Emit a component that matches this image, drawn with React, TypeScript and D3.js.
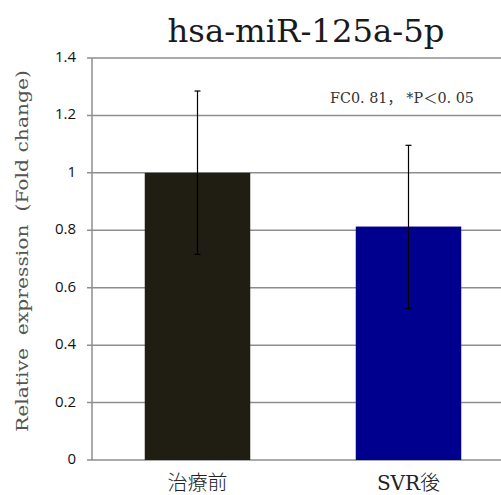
import * as d3 from "d3";

const W = 501;
const H = 495;
const MARGIN = { top: 58, left: 92, bottom: 35 };
const PLOT_RIGHT = 514; // plot area runs past the picture edge

const categories = ["治療前", "SVR後"];
const means = [1.0, 0.813];
const errUpper = [1.285, 1.096];
const errLower = [0.716, 0.527];
const barColors = ["#201e13", "#00008f"];
const yTicks = [0, 0.2, 0.4, 0.6, 0.8, 1, 1.2, 1.4];

const title = "hsa-miR-125a-5p";
const yLabel = "Relative\u00a0\u00a0expression\u00a0\u00a0(Fold\u00a0change)";
const note = "FC0. 81，\u00a0*P＜0. 05";

const App = () => {
  const y = d3
    .scaleLinear()
    .domain([0, 1.4])
    .range([H - MARGIN.bottom, MARGIN.top]);

  const x = d3
    .scaleBand()
    .domain(categories)
    .range([MARGIN.left, PLOT_RIGHT])
    .paddingInner(0.5)
    .paddingOuter(0.25);

  const gridColor = "#8e8e8e";
  const y0 = y(0);

  return (
    <svg width={W} height={H} style={{ display: "block", position: "absolute", left: 0, top: 0, background: "white" }}>
      <text
        x={306}
        y={42}
        textAnchor="middle"
        fontFamily="'DejaVu Serif', serif"
        fontSize={31}
        textLength={277}
        lengthAdjust="spacingAndGlyphs"
        fill="#1a1a1a"
      >
        {title}
      </text>

      {/* grid + ticks */}
      {yTicks.map((t, i) => (
        <g key={i}>
          <line x1={87} x2={W} y1={y(t)} y2={y(t)} stroke={gridColor} strokeWidth={1.5} />
          <text
            x={76}
            y={y(t)}
            textAnchor="end"
            dominantBaseline="middle"
            fontFamily="'Open Sans', 'Liberation Sans', sans-serif"
            fontSize={15}
            fill="#111"
          >
            {t}
          </text>
        </g>
      ))}
      <line x1={MARGIN.left} x2={MARGIN.left} y1={y(1.4)} y2={y0} stroke={gridColor} strokeWidth={1.5} />

      {/* bars */}
      {categories.map((c, i) => (
        <rect
          key={c}
          x={x(c)}
          y={y(means[i])}
          width={x.bandwidth()}
          height={y0 - y(means[i])}
          fill={barColors[i]}
        />
      ))}

      {/* error bars */}
      {categories.map((c, i) => {
        const cx = (x(c) as number) + x.bandwidth() / 2;
        return (
          <g key={c} stroke="#000" strokeWidth={1.2}>
            <line x1={cx} x2={cx} y1={y(errUpper[i])} y2={y(errLower[i])} />
            <line x1={cx - 3} x2={cx + 3} y1={y(errUpper[i])} y2={y(errUpper[i])} />
            <line x1={cx - 3} x2={cx + 3} y1={y(errLower[i])} y2={y(errLower[i])} />
          </g>
        );
      })}

      {/* x labels */}
      {categories.map((c) => (
        <text
          key={c}
          x={(x(c) as number) + x.bandwidth() / 2}
          y={490}
          textAnchor="middle"
          fontFamily="'DejaVu Serif', 'Noto Sans CJK JP', serif"
          fontSize={20}
          fontWeight={300}
          fill="#222"
        >
          {c}
        </text>
      ))}

      <text
        x={330}
        y={103}
        fontFamily="'DejaVu Serif', 'Noto Sans CJK JP', serif"
        fontSize={14}
        textLength={144}
        lengthAdjust="spacingAndGlyphs"
        fill="#333"
      >
        {note}
      </text>

      <text
        transform={`translate(28, ${251}) rotate(-90)`}
        textAnchor="middle"
        fontFamily="'DejaVu Serif', serif"
        fontSize={16}
        textLength={362}
        lengthAdjust="spacingAndGlyphs"
        fill="#555"
      >
        {yLabel}
      </text>
    </svg>
  );
};

export default App;
